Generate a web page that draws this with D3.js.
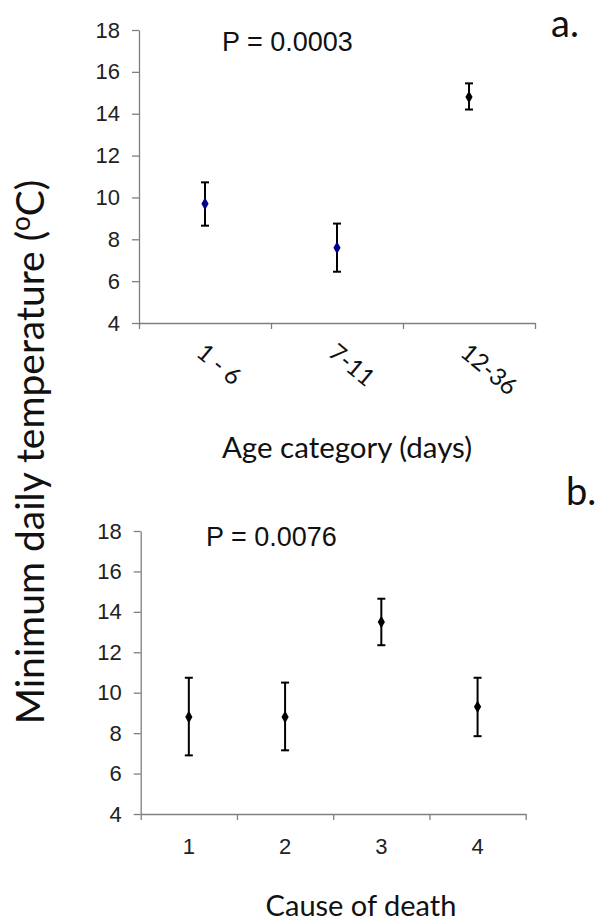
<!DOCTYPE html>
<html>
<head>
<meta charset="utf-8">
<script src="https://cdn.jsdelivr.net/npm/d3@7"></script>
<style>
  body { margin: 0; background: #fff; }
  svg { display: block; }
</style>
</head>
<body>
<div id="chart"></div>
<script>
// panel a: age category
const ageCats = ['1 - 6', '7-11', '12-36'];
const ageMean = [9.7, 7.6, 14.8];
const ageLow = [8.65, 6.45, 14.2];
const ageHigh = [10.72, 8.75, 15.45];
const ageColors = ['#00008b', '#00008b', '#000000'];

// panel b: cause of death
const causeCats = ['1', '2', '3', '4'];
const causeMean = [8.8, 8.8, 13.5, 9.3];
const causeLow = [6.9, 7.15, 12.35, 7.85];
const causeHigh = [10.74, 10.5, 14.65, 10.74];

const yTicks = [4, 6, 8, 10, 12, 14, 16, 18];

const W = 603, H = 924;
const svg = d3.select('#chart')
    .append('svg')
    .attr('width', W)
    .attr('height', H);

const numFont = '"Liberation Sans", Arial, sans-serif';
const textFont = 'Lato, "Open Sans", sans-serif';

function drawPanel(opts) {
    const cats = opts.cats;
    const data = cats.map((c, i) => ({
        cat: c, mean: opts.mean[i], lo: opts.low[i], hi: opts.high[i],
        color: opts.colors ? opts.colors[i] : '#000'
    }));

    const x = d3.scaleBand()
        .domain(cats)
        .range([opts.left, opts.right]);

    const xEdges = d3.scaleLinear()
        .domain([0, cats.length])
        .range([opts.left, opts.right]);

    const y = d3.scaleLinear()
        .domain([4, 18])
        .range([opts.bottom, opts.top]);

    const g = svg.append('g');

    // x axis, ticks on category boundaries
    const xAxis = g.append('g')
        .attr('transform', `translate(0,${opts.bottom})`)
        .call(d3.axisBottom(xEdges)
            .tickValues(d3.range(cats.length + 1))
            .tickFormat('')
            .tickSize(6)
            .tickSizeOuter(0));
    xAxis.selectAll('path, line').attr('stroke', '#7f7f7f').attr('stroke-width', 1.3);

    // y axis
    const yAxis = g.append('g')
        .attr('transform', `translate(${opts.left},0)`)
        .call(d3.axisLeft(y)
            .tickValues(yTicks)
            .tickSize(7)
            .tickSizeOuter(0)
            .tickPadding(12));
    yAxis.selectAll('path, line').attr('stroke', '#7f7f7f').attr('stroke-width', 1.3);
    yAxis.selectAll('text')
        .attr('font-family', numFont)
        .attr('font-size', 22)
        .attr('fill', '#222');

    // error bars
    const pts = g.selectAll('.pt')
        .data(data)
        .enter()
        .append('g')
        .attr('class', 'pt');

    const cx = d => x(d.cat) + x.bandwidth() / 2;

    pts.append('line')
        .attr('x1', cx).attr('x2', cx)
        .attr('y1', d => y(d.lo)).attr('y2', d => y(d.hi))
        .attr('stroke', '#000').attr('stroke-width', 2);
    pts.append('line')
        .attr('x1', d => cx(d) - 4).attr('x2', d => cx(d) + 4)
        .attr('y1', d => y(d.hi)).attr('y2', d => y(d.hi))
        .attr('stroke', '#000').attr('stroke-width', 2);
    pts.append('line')
        .attr('x1', d => cx(d) - 4).attr('x2', d => cx(d) + 4)
        .attr('y1', d => y(d.lo)).attr('y2', d => y(d.lo))
        .attr('stroke', '#000').attr('stroke-width', 2);

    pts.append('path')
        .attr('d', d3.symbol().type(d3.symbolDiamond).size(45))
        .attr('transform', d => `translate(${cx(d)},${y(d.mean)})`)
        .attr('fill', d => d.color);

    // P value
    g.append('text')
        .attr('x', opts.pX)
        .attr('y', opts.pY)
        .attr('font-family', numFont)
        .attr('font-size', 27)
        .attr('fill', '#111')
        .text(opts.pText);

    // panel letter
    g.append('text')
        .attr('x', opts.letterX)
        .attr('y', opts.letterY)
        .attr('font-family', textFont)
        .attr('font-size', 38)
        .attr('fill', '#111')
        .text(opts.letter);

    return { g, x, y, cx };
}

// Panel a
const a = drawPanel({
    cats: ageCats, mean: ageMean, low: ageLow, high: ageHigh, colors: ageColors,
    left: 139, right: 535, top: 30, bottom: 323,
    pText: 'P = 0.0003', pX: 222, pY: 51,
    letter: 'a.', letterX: 551, letterY: 37
});

a.g.selectAll('.cat-label')
    .data(ageCats)
    .enter()
    .append('text')
    .attr('class', 'cat-label')
    .attr('font-family', textFont)
    .attr('font-size', 24)
    .attr('fill', '#111')
    .attr('transform', d => `translate(${a.x(d) + a.x.bandwidth() / 2 - 10},${355}) rotate(40)`)
    .text(d => d);

svg.append('text')
    .attr('x', (222 + 472) / 2)
    .attr('y', 458)
    .attr('text-anchor', 'middle')
    .attr('font-family', textFont)
    .attr('font-size', 29.5)
    .attr('fill', '#111')
    .text('Age category (days)');

// Panel b
const b = drawPanel({
    cats: causeCats, mean: causeMean, low: causeLow, high: causeHigh,
    left: 140.7, right: 525.7, top: 531, bottom: 814,
    pText: 'P = 0.0076', pX: 206, pY: 546,
    letter: 'b.', letterX: 566, letterY: 505
});

b.g.selectAll('.cat-label')
    .data(causeCats)
    .enter()
    .append('text')
    .attr('class', 'cat-label')
    .attr('x', d => b.x(d) + b.x.bandwidth() / 2)
    .attr('y', 854)
    .attr('text-anchor', 'middle')
    .attr('font-family', numFont)
    .attr('font-size', 22)
    .attr('fill', '#222')
    .text(d => d);

svg.append('text')
    .attr('x', (267 + 455) / 2)
    .attr('y', 916)
    .attr('text-anchor', 'middle')
    .attr('font-family', textFont)
    .attr('font-size', 29)
    .attr('fill', '#111')
    .text('Cause of death');

// shared y title
const yTitle = svg.append('text')
    .attr('transform', 'translate(44,452) rotate(-90)')
    .attr('text-anchor', 'middle')
    .attr('font-family', textFont)
    .attr('font-size', 39)
    .attr('fill', '#111');
yTitle.append('tspan').text('Minimum daily temperature (');
yTitle.append('tspan').attr('font-size', 26).attr('dy', -14).text('o');
yTitle.append('tspan').attr('dy', 14).text('C)');
</script>
</body>
</html>
